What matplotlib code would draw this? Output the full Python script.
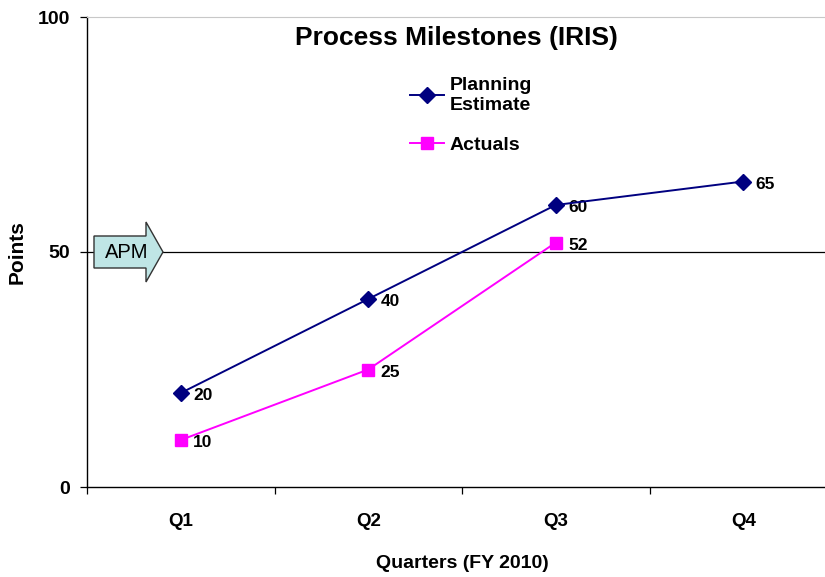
import matplotlib
matplotlib.use("Agg")
import matplotlib.pyplot as plt
from matplotlib.patches import Polygon
from matplotlib.transforms import blended_transform_factory

plt.rcParams['font.family'] = ['Liberation Sans', 'DejaVu Sans']

quarters = ["Q1", "Q2", "Q3", "Q4"]
planning = [20, 40, 60, 65]
actuals = [10, 25, 52]
apm_level = 50
title = "Process Milestones (IRIS)"

fig = plt.figure(figsize=(8.25, 5.77), dpi=100)
W, H = 825, 577
left, right, top, bottom = 87, 837, 17, 487
ax = fig.add_axes([left / W, 1 - bottom / H, (right - left) / W, (bottom - top) / H])

x_pl = list(range(len(planning)))
x_ac = list(range(len(actuals)))
ax.plot(x_pl, planning, color="#000080", marker="D", markersize=8, lw=1.4,
        label="Planning\nEstimate", clip_on=False, zorder=4)
ax.plot(x_ac, actuals, color="#FF00FF", marker="s", markersize=9, lw=1.4,
        label="Actuals", clip_on=False, zorder=4)

for xi, v in zip(x_pl, planning):
    ax.annotate(str(v), (xi, v), xytext=(9, -2), textcoords="offset points",
                ha="left", va="center", fontsize=12.5, fontweight="bold")
for xi, v in zip(x_ac, actuals):
    ax.annotate(str(v), (xi, v), xytext=(9, -2), textcoords="offset points",
                ha="left", va="center", fontsize=12.5, fontweight="bold")

ax.axhline(apm_level, color="black", lw=0.9, zorder=1)

ax.set_xlim(-0.5, 3.5)
ax.set_ylim(0, 100)
ax.set_yticks([0, 50, 100])
ax.set_yticklabels(["0", "50", "100"], fontsize=14, fontweight="bold")
ax.set_xticks(x_pl)
ax.set_xticklabels(quarters, fontsize=13.5, fontweight="bold")
ax.set_xticks([-0.5, 0.5, 1.5, 2.5, 3.5], minor=True)
ax.tick_params(axis="x", which="major", length=0, pad=19)
ax.tick_params(axis="x", which="minor", length=5, direction="out", width=0.9)
ax.tick_params(axis="y", length=5, direction="out", width=0.9, pad=7)

for s in ["left", "bottom"]:
    ax.spines[s].set_color("black")
    ax.spines[s].set_linewidth(1.0)
ax.spines["right"].set_visible(False)
ax.spines["top"].set_color("#c8c8c8")

ax.set_xlabel("Quarters (FY 2010)", fontsize=14, fontweight="bold", labelpad=18)
ax.set_ylabel("Points", fontsize=15, fontweight="bold", labelpad=8)

fig.text(456 / W, 1 - 38 / H, title, ha="center", va="center", fontsize=19, fontweight="bold")

leg = ax.legend(loc="upper left", bbox_to_anchor=(392 / W, 1 - 60 / H),
                bbox_transform=fig.transFigure, frameon=False,
                prop=dict(size=14, weight="bold"), handlelength=1.75,
                handletextpad=0.3, labelspacing=1.15)

# APM arrow callout anchored at APM level
tr = blended_transform_factory(ax.transAxes, ax.transData)
bx0, bx1, tip = (94 - left) / 750, (146 - left) / 750, (163 - left) / 750
bh, hh = 16 / 4.7, 30 / 4.7
pts = [(bx0, apm_level - bh), (bx1, apm_level - bh), (bx1, apm_level - hh),
       (tip, apm_level), (bx1, apm_level + hh), (bx1, apm_level + bh),
       (bx0, apm_level + bh)]
ax.add_patch(Polygon(pts, closed=True, transform=tr, facecolor="#bfe5e5",
                     edgecolor="#333333", lw=1.0, zorder=3, clip_on=False))
ax.text((127 - left) / 750, apm_level, "APM", transform=tr, ha="center",
        va="center", fontsize=14.5, zorder=5)

fig.savefig("out.png", dpi=100)
